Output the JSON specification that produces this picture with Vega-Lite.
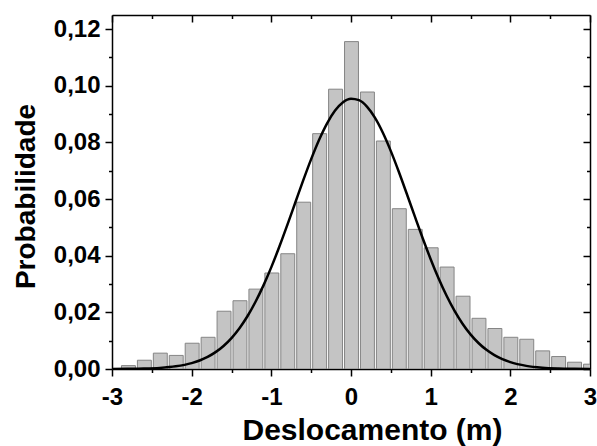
{
  "$schema": "https://vega.github.io/schema/vega-lite/v6.json",
  "width": 478,
  "height": 354,
  "autosize": {"type": "none"},
  "padding": {"left": 112, "top": 15, "right": 7, "bottom": 77},
  "background": "white",
  "config": {
    "view": {"stroke": null},
    "axis": {
      "labelFont": "Liberation Sans",
      "titleFont": "Liberation Sans",
      "labelFontWeight": "bold",
      "titleFontWeight": "bold",
      "labelColor": "black",
      "titleColor": "black",
      "domainColor": "black",
      "domainWidth": 1.5,
      "tickColor": "black",
      "tickWidth": 1.5,
      "grid": false,
      "labelFlush": false,
      "labelOverlap": false
    }
  },
  "layer": [
    {
      "data": {
        "values": [
          {"start": -2.9, "end": -2.7, "prob": 0.0012},
          {"start": -2.7, "end": -2.5, "prob": 0.0031},
          {"start": -2.5, "end": -2.3, "prob": 0.0056},
          {"start": -2.3, "end": -2.1, "prob": 0.0048},
          {"start": -2.1, "end": -1.9, "prob": 0.0091},
          {"start": -1.9, "end": -1.7, "prob": 0.0112},
          {"start": -1.7, "end": -1.5, "prob": 0.0204},
          {"start": -1.5, "end": -1.3, "prob": 0.0241},
          {"start": -1.3, "end": -1.1, "prob": 0.0282},
          {"start": -1.1, "end": -0.9, "prob": 0.0339},
          {"start": -0.9, "end": -0.7, "prob": 0.0407},
          {"start": -0.7, "end": -0.5, "prob": 0.0589},
          {"start": -0.5, "end": -0.3, "prob": 0.0831},
          {"start": -0.3, "end": -0.1, "prob": 0.0988},
          {"start": -0.1, "end": 0.1, "prob": 0.1156},
          {"start": 0.1, "end": 0.3, "prob": 0.0978},
          {"start": 0.3, "end": 0.5, "prob": 0.0805},
          {"start": 0.5, "end": 0.7, "prob": 0.0566},
          {"start": 0.7, "end": 0.9, "prob": 0.0493},
          {"start": 0.9, "end": 1.1, "prob": 0.0428},
          {"start": 1.1, "end": 1.3, "prob": 0.0360},
          {"start": 1.3, "end": 1.5, "prob": 0.0257},
          {"start": 1.5, "end": 1.7, "prob": 0.0179},
          {"start": 1.7, "end": 1.9, "prob": 0.0143},
          {"start": 1.9, "end": 2.1, "prob": 0.0112},
          {"start": 2.1, "end": 2.3, "prob": 0.0105},
          {"start": 2.3, "end": 2.5, "prob": 0.0064},
          {"start": 2.5, "end": 2.7, "prob": 0.0044},
          {"start": 2.7, "end": 2.9, "prob": 0.0024},
          {"start": 2.9, "end": 3.1, "prob": 0.0017}
        ]
      },
      "mark": {"type": "bar", "binSpacing": 2, "fill": "#c4c4c4", "stroke": "#858585", "strokeWidth": 1, "clip": true},
      "encoding": {
        "x": {
          "field": "start", "type": "quantitative", "bin": "binned",
          "scale": {"domain": [-3, 3], "nice": false, "zero": false},
          "axis": {
            "orient": "bottom",
            "values": [-3, -2.5, -2, -1.5, -1, -0.5, 0, 0.5, 1, 1.5, 2, 2.5, 3],
            "tickSize": {"condition": {"test": "abs(datum.value % 1) > 0.01", "value": 3.5}, "value": 7},
            "labelExpr": "abs(datum.value % 1) > 0.01 ? '' : '' + datum.value",
            "labelFontSize": 24,
            "labelPadding": 9,
            "title": "Deslocamento (m)",
            "titleFontSize": 30,
            "titleX": 260,
            "titleY": 70,
            "titleBaseline": "alphabetic",
            "titleAlign": "center"
          }
        },
        "x2": {"field": "end"},
        "y": {
          "field": "prob", "type": "quantitative",
          "scale": {"domain": [0, 0.125], "nice": false},
          "axis": {
            "orient": "left",
            "values": [0, 0.01, 0.02, 0.03, 0.04, 0.05, 0.06, 0.07, 0.08, 0.09, 0.1, 0.11, 0.12],
            "tickSize": {"condition": {"test": "round(datum.value * 100) % 2 !== 0", "value": 3.5}, "value": 7},
            "labelExpr": "round(datum.value * 100) % 2 !== 0 ? '' : replace(format(datum.value, '.2f'), '.', ',')",
            "labelFontSize": 24,
            "labelPadding": 5,
            "title": "Probabilidade",
            "titleFontSize": 28,
            "titleX": -78,
            "titleY": 181,
            "titleAngle": -90,
            "titleBaseline": "alphabetic",
            "titleAlign": "center"
          }
        }
      }
    },
    {
      "data": {
        "values": [
          {"x": -3.0, "p": 0.00002},
          {"x": -2.8, "p": 0.000055},
          {"x": -2.6, "p": 0.000153},
          {"x": -2.4, "p": 0.000393},
          {"x": -2.2, "p": 0.000937},
          {"x": -2.0, "p": 0.002076},
          {"x": -1.9, "p": 0.003004},
          {"x": -1.8, "p": 0.004268},
          {"x": -1.7, "p": 0.005951},
          {"x": -1.6, "p": 0.008143},
          {"x": -1.5, "p": 0.01093},
          {"x": -1.4, "p": 0.0144},
          {"x": -1.3, "p": 0.01862},
          {"x": -1.2, "p": 0.02365},
          {"x": -1.1, "p": 0.02944},
          {"x": -1.0, "p": 0.03597},
          {"x": -0.9, "p": 0.04316},
          {"x": -0.8, "p": 0.05082},
          {"x": -0.7, "p": 0.05871},
          {"x": -0.6, "p": 0.06658},
          {"x": -0.5, "p": 0.0741},
          {"x": -0.4, "p": 0.08094},
          {"x": -0.3, "p": 0.08675},
          {"x": -0.2, "p": 0.09126},
          {"x": -0.1, "p": 0.09422},
          {"x": 0.0, "p": 0.09546},
          {"x": 0.1, "p": 0.09493},
          {"x": 0.2, "p": 0.09264},
          {"x": 0.3, "p": 0.08873},
          {"x": 0.4, "p": 0.0834},
          {"x": 0.5, "p": 0.07693},
          {"x": 0.6, "p": 0.06965},
          {"x": 0.7, "p": 0.06188},
          {"x": 0.8, "p": 0.05397},
          {"x": 0.9, "p": 0.04618},
          {"x": 1.0, "p": 0.03878},
          {"x": 1.1, "p": 0.03196},
          {"x": 1.2, "p": 0.02586},
          {"x": 1.3, "p": 0.02053},
          {"x": 1.4, "p": 0.016},
          {"x": 1.5, "p": 0.01223},
          {"x": 1.6, "p": 0.00918},
          {"x": 1.7, "p": 0.00676},
          {"x": 1.8, "p": 0.00489},
          {"x": 1.9, "p": 0.00347},
          {"x": 2.0, "p": 0.00241},
          {"x": 2.2, "p": 0.001105},
          {"x": 2.4, "p": 0.00047},
          {"x": 2.6, "p": 0.000185},
          {"x": 2.8, "p": 0.000068},
          {"x": 3.0, "p": 0.000023}
        ]
      },
      "mark": {"type": "line", "color": "black", "strokeWidth": 2.5, "clip": true, "interpolate": "monotone"},
      "encoding": {
        "x": {
          "field": "x", "type": "quantitative",
          "scale": {"domain": [-3, 3], "nice": false, "zero": false},
          "axis": {
            "orient": "top",
            "values": [-3, -2.5, -2, -1.5, -1, -0.5, 0, 0.5, 1, 1.5, 2, 2.5, 3],
            "tickSize": {"condition": {"test": "abs(datum.value % 1) > 0.01", "value": -3.5}, "value": -7},
            "labels": false,
            "title": null
          }
        },
        "y": {
          "field": "p", "type": "quantitative",
          "scale": {"domain": [0, 0.125], "nice": false},
          "axis": {
            "orient": "right",
            "values": [0, 0.01, 0.02, 0.03, 0.04, 0.05, 0.06, 0.07, 0.08, 0.09, 0.1, 0.11, 0.12],
            "tickSize": {"condition": {"test": "round(datum.value * 100) % 2 !== 0", "value": -3.5}, "value": -7},
            "labels": false,
            "title": null
          }
        }
      }
    }
  ],
  "resolve": {"axis": {"x": "independent", "y": "independent"}}
}
